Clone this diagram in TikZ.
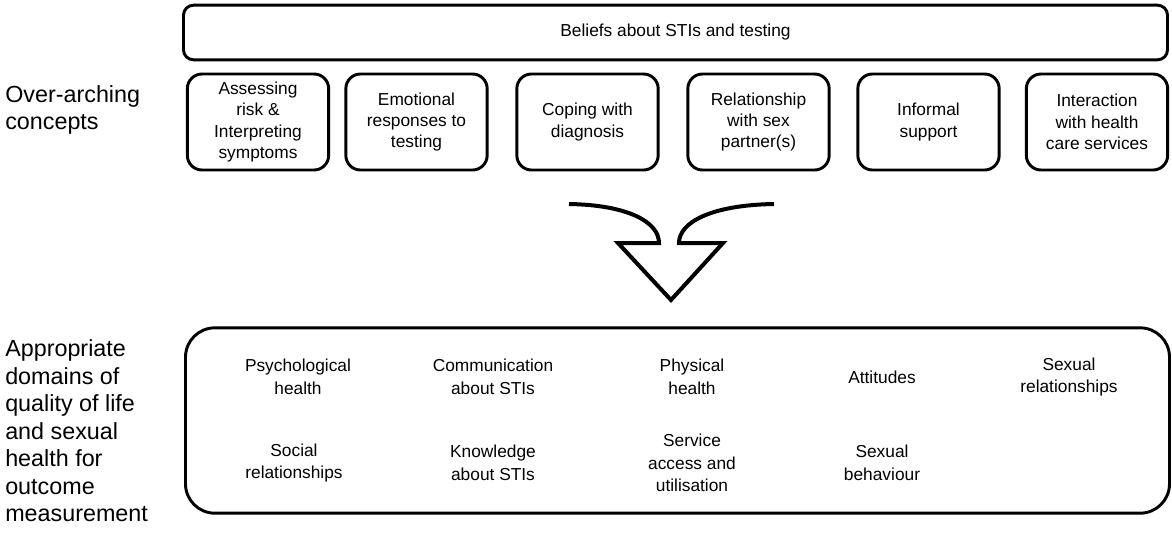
\documentclass[tikz,border=0pt]{standalone}
\usepackage{fontspec}
\setmainfont{Liberation Sans}

\begin{document}
\begin{tikzpicture}[x=0.75pt,y=-0.75pt,
  banner/.style={draw, line width=2.2pt, rounded corners=7.5pt, minimum width=738pt, minimum height=41pt, font=\fontsize{13}{16}\selectfont},
  concept/.style={draw, line width=2.2pt, rounded corners=11pt, minimum width=106pt, minimum height=72pt, inner sep=0pt, align=center, font=\fontsize{13}{16}\selectfont},
  domainbox/.style={draw, line width=2.2pt, rounded corners=22pt, minimum width=738pt, minimum height=139pt},
  domaintext/.style={align=center, inner sep=0pt, font=\fontsize{13}{17}\selectfont},
  sidelabel/.style={anchor=west, align=left, inner sep=0pt, font=\fontsize{17.5}{20.6}\selectfont}]
\useasboundingbox (0,0) rectangle (1172,533);

% side labels
\node[sidelabel] (overarching) at (5,110) {Over-arching\\concepts};
\node[sidelabel] (appropriate) at (5,431) {Appropriate\\domains of\\quality of life\\and sexual\\health for\\outcome\\measurement};

% over-arching concepts
\node[banner] (beliefs) at (675.5,32.5) {Beliefs about STIs and testing};
\node[concept] (risk) at (258,122) {Assessing\\risk \&\\Interpreting\\symptoms};
\node[concept] (emotional) at (416.5,122) {Emotional\\responses to\\testing};
\node[concept] (coping) at (587.5,122) {Coping with\\diagnosis};
\node[concept] (partner) at (758.5,122) {Relationship\\with sex\\partner(s)};
\node[concept] (informal) at (928.5,122) {Informal\\support};
\node[concept] (services) at (1097,122) {Interaction\\with health\\care services};

% arrow
\draw[line width=3pt, line join=miter] (569,204) .. controls (628,205) and (659,222) .. (659,243) -- (618,243) -- (671,300) -- (723,243) -- (679,243) .. controls (679,222) and (712,205) .. (774,204);

% domains
\node[domainbox] (domains) at (677.5,420.5) {};
\node[domaintext] (psych) at (298,377) {Psychological\\health};
\node[domaintext] (comm) at (493,377) {Communication\\about STIs};
\node[domaintext] (physical) at (692,377) {Physical\\health};
\node[domaintext] (attitudes) at (882,377) {Attitudes};
\node[domaintext] (sexrel) at (1069,377) {Sexual\\relationships};
\node[domaintext] (social) at (294,463) {Social\\relationships};
\node[domaintext] (knowledge) at (493,463) {Knowledge\\about STIs};
\node[domaintext] (service) at (692,463) {Service\\access and\\utilisation};
\node[domaintext] (behaviour) at (882,463) {Sexual\\behaviour};
\end{tikzpicture}
\end{document}
